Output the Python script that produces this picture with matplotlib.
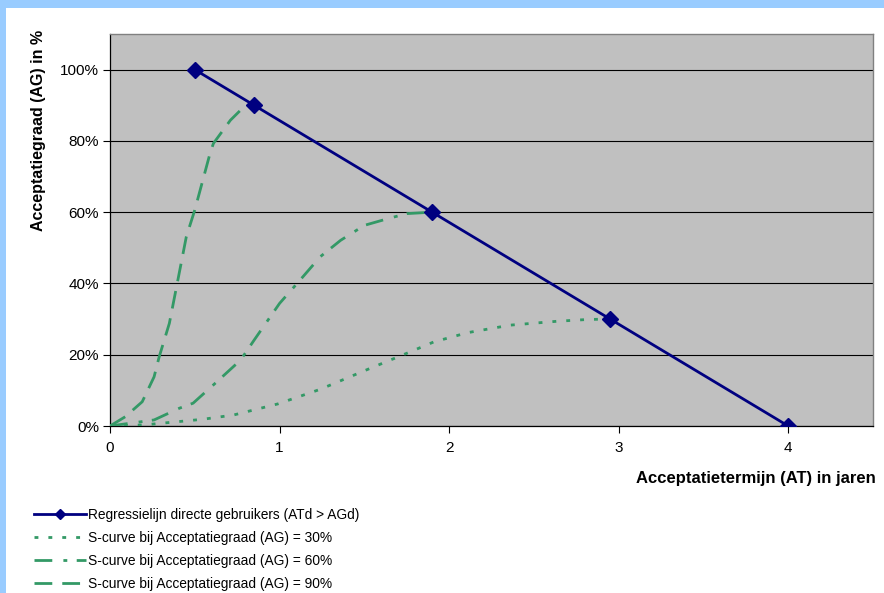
import matplotlib
matplotlib.use("Agg")
import matplotlib.pyplot as plt
from matplotlib.lines import Line2D
from matplotlib.patches import Rectangle
from matplotlib.ticker import PercentFormatter

plt.rcParams['font.family'] = ['Liberation Sans', 'DejaVu Sans']

# Regression line for direct users (years, acceptance fraction)
reg_x = [0.5, 0.85, 1.9, 2.95, 4.0]
reg_y = [1.0, 0.9, 0.6, 0.3, 0.0]

# S-curve reaching 30 %
s30_x = [0.0, 0.20, 0.55, 0.73, 0.99, 1.24, 1.50, 1.75, 1.91, 2.11, 2.36, 2.64, 2.82, 2.95]
s30_y = [0.0, 0.003, 0.019, 0.031, 0.062, 0.103, 0.155, 0.204, 0.236, 0.262, 0.283, 0.294, 0.299, 0.30]

# S-curve reaching 60 %
s60_x = [0.0, 0.26, 0.41, 0.49, 0.63, 0.77, 0.85, 1.00, 1.12, 1.24, 1.36, 1.50, 1.64, 1.75, 1.90]
s60_y = [0.0, 0.017, 0.050, 0.064, 0.124, 0.185, 0.241, 0.344, 0.409, 0.475, 0.521, 0.563, 0.582, 0.596, 0.60]

# S-curve reaching 90 %
s90_x = [0.0, 0.09, 0.19, 0.26, 0.29, 0.35, 0.40, 0.45, 0.50, 0.59, 0.61, 0.71, 0.78, 0.85]
s90_y = [0.0, 0.026, 0.068, 0.138, 0.194, 0.288, 0.409, 0.531, 0.606, 0.765, 0.793, 0.858, 0.891, 0.90]

labels = [
    "Regressielijn directe gebruikers (ATd > AGd)",
    "S-curve bij Acceptatiegraad (AG) = 30%",
    "S-curve bij Acceptatiegraad (AG) = 60%",
    "S-curve bij Acceptatiegraad (AG) = 90%",
]
x_ticks = [0, 1, 2, 3, 4]
y_ticks = [0.0, 0.2, 0.4, 0.6, 0.8, 1.0]

W, H = 884, 593
fig = plt.figure(figsize=(W / 100, H / 100), dpi=100)
fig.patch.set_facecolor('white')

# light blue frame strips along the top and left edges
fig.patches.append(Rectangle((0, 0), 6 / W, 1, transform=fig.transFigure,
                             facecolor='#99ccff', edgecolor='none', zorder=0))
fig.patches.append(Rectangle((0, 1 - 8 / H), 1, 8 / H, transform=fig.transFigure,
                             facecolor='#99ccff', edgecolor='none', zorder=0))

left, right, top, bottom = 110, 873, 34, 426
ax = fig.add_axes([left / W, 1 - bottom / H, (right - left) / W, (bottom - top) / H])
ax.set_facecolor('#c0c0c0')
ax.set_xlim(0, 4.5)
ax.set_ylim(0, 1.1)

green = '#339966'
navy = '#000080'
lw = 2.0
dot = (0, (1.4, 3.6))
dashdot = (0, (6.4, 4.0, 1.4, 3.4))
dash = (0, (6.4, 3.6))

ax.plot(s30_x, s30_y, color=green, lw=lw, linestyle=dot,
        dash_capstyle='butt', zorder=3)
ax.plot(s60_x, s60_y, color=green, lw=lw, linestyle=dashdot,
        dash_capstyle='butt', zorder=3)
ax.plot(s90_x, s90_y, color=green, lw=lw, linestyle=dash,
        dash_capstyle='butt', zorder=3)
ax.plot(reg_x, reg_y, color=navy, lw=lw, marker='D', markersize=8,
        markerfacecolor=navy, markeredgecolor=navy, zorder=4)

ax.set_xticks(x_ticks)
ax.set_yticks(y_ticks)
ax.yaxis.set_major_formatter(PercentFormatter(1.0, decimals=0))
ax.grid(axis='y', color='black', lw=0.8, zorder=1)
ax.set_axisbelow(True)
ax.tick_params(direction='out', length=5, width=0.8, color='black',
               labelsize=11, labelcolor='black')
ax.tick_params(axis='x', pad=6)
ax.tick_params(axis='y', pad=3)

for s in ('left', 'bottom'):
    ax.spines[s].set_color('black')
    ax.spines[s].set_linewidth(0.9)
for s in ('top', 'right'):
    ax.spines[s].set_color('#808080')
    ax.spines[s].set_linewidth(1.0)

fig.text(876 / W, 1 - 479 / H, "Acceptatietermijn (AT) in jaren", ha='right',
         va='center', fontsize=12, fontweight='bold')
fig.text(39 / W, 1 - 30 / H, "Acceptatiegraad (AG) in %", rotation=90,
         ha='center', va='top', fontsize=11.5, fontweight='bold')

handles = [
    Line2D([], [], color=navy, lw=lw, marker='D', markersize=5),
    Line2D([], [], color=green, lw=lw, linestyle=dot),
    Line2D([], [], color=green, lw=lw, linestyle=dashdot),
    Line2D([], [], color=green, lw=lw, linestyle=dash),
]
fig.legend(handles, labels, loc='upper left',
           bbox_to_anchor=(34 / W, 1 - 508 / H), frameon=False,
           fontsize=9.9, handlelength=3.75, handletextpad=0.15,
           labelspacing=0.66, borderpad=0, borderaxespad=0)

fig.savefig('out.png', dpi=100)
